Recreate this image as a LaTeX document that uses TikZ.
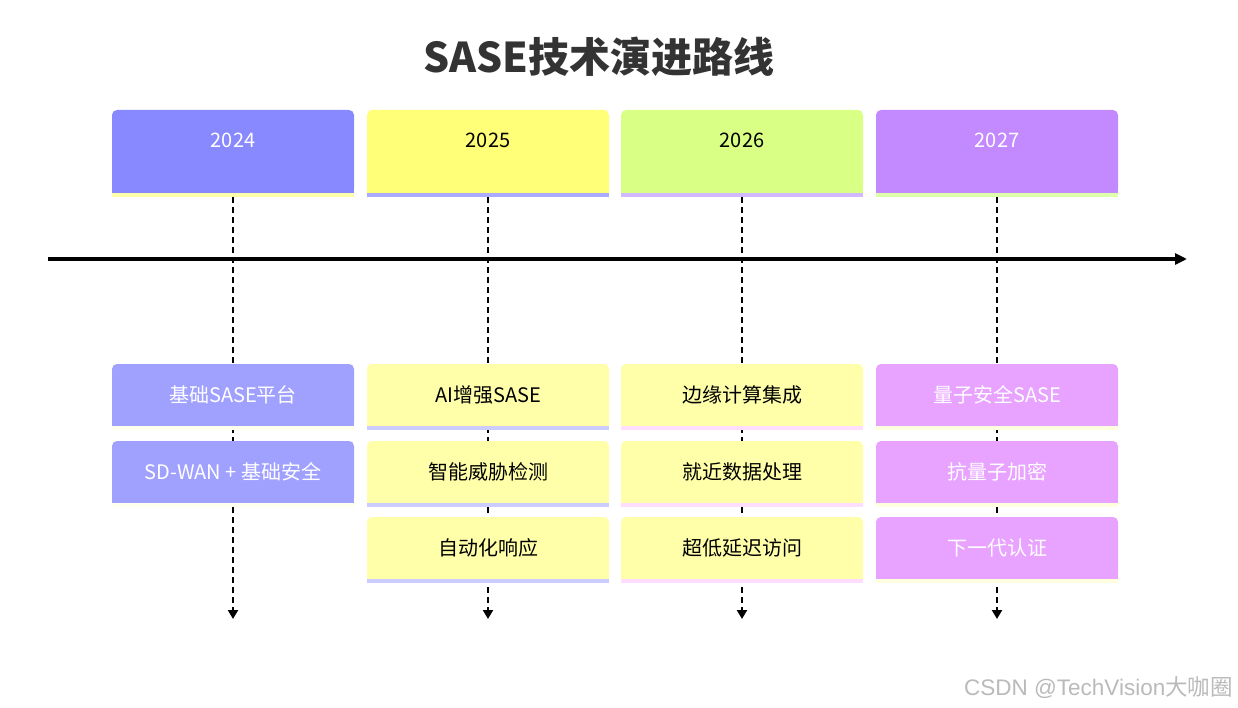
\documentclass[tikz,border=0pt]{standalone}
\usepackage{fontspec}
\setmainfont{Noto Sans CJK SC}
\newfontfamily\wmlatin{Liberation Sans}
\usetikzlibrary{arrows.meta}
\definecolor{hA}{HTML}{8888FF}\definecolor{hB}{HTML}{FFFF78}\definecolor{hC}{HTML}{D9FF85}\definecolor{hD}{HTML}{C389FF}
\definecolor{hsA}{HTML}{FFFFAA}\definecolor{hsB}{HTML}{AAAAFF}\definecolor{hsC}{HTML}{D4B8FF}\definecolor{hsD}{HTML}{DDFFAA}
\definecolor{tA}{HTML}{A0A0FF}\definecolor{tB}{HTML}{FFFFAA}\definecolor{tC}{HTML}{FFFFAA}\definecolor{tD}{HTML}{E8A2FF}
\definecolor{tsA}{HTML}{FFFFEE}\definecolor{tsB}{HTML}{CCCCFF}\definecolor{tsC}{HTML}{FFDDFF}\definecolor{tsD}{HTML}{FFFFE0}
\definecolor{titlegray}{HTML}{333333}
\tikzset{
  cardtext/.style={inner sep=0pt, font=\fontsize{20}{22}\selectfont},
  guide/.style={draw=black, line width=2.2pt, dash pattern=on 6pt off 4pt, -{Triangle[length=9pt,width=10pt]}},
  axis/.style={draw=black, line width=3.5pt, -{Triangle[length=12pt,width=11pt]}},
}
\begin{document}
\begin{tikzpicture}[x=1pt,y=-1pt]
\useasboundingbox (0,0) rectangle (1238,708);
\fill[white] (0,0) rectangle (1238,708);
\node[font=\fontsize{41}{45}\selectfont\bfseries, text=titlegray] (title) at (599,57) {SASE技术演进路线};
% guides
\foreach \cx/\k in {233/1,488/2,742/3,997/4}{
  \coordinate (hb\k) at (\cx,197);
  \coordinate (e\k) at (\cx,619);
  \draw[guide] (hb\k) -- (e\k);
}
% axis
\coordinate (ax0) at (48,259);
\coordinate (ax1) at (1187,259);
\draw[axis] (ax0) -- (ax1);
% headers
\foreach \cx/\L/\tc/\yr in {233/A/white/2024,488/B/black/2025,742/C/black/2026,997/D/white/2027}{
  \fill[h\L, rounded corners=5pt] (\cx-121,110) rectangle (\cx+121,193);
  \fill[h\L] (\cx-121,150) rectangle (\cx+121,193);
  \fill[hs\L] (\cx-121,193) rectangle (\cx+121,197);
  \node[cardtext, text=\tc] (y\yr) at (\cx,140) {\yr};
}
% tasks
\newcommand\task[3]{%
  \fill[t#2, rounded corners=5pt] (#1-121,#3) rectangle (#1+121,#3+62);
  \fill[t#2] (#1-121,#3+30) rectangle (#1+121,#3+62);
  \fill[ts#2] (#1-121,#3+62) rectangle (#1+121,#3+66);
}
\task{233}{A}{364}\node[cardtext,text=white] (a1) at (233,395) {基础SASE平台};
\task{233}{A}{441}\node[cardtext,text=white] (a2) at (233,472) {SD-WAN + 基础安全};
\task{488}{B}{364}\node[cardtext,text=black] (b1) at (488,395) {AI增强SASE};
\task{488}{B}{441}\node[cardtext,text=black] (b2) at (488,472) {智能威胁检测};
\task{488}{B}{517}\node[cardtext,text=black] (b3) at (488,548) {自动化响应};
\task{742}{C}{364}\node[cardtext,text=black] (c1) at (742,395) {边缘计算集成};
\task{742}{C}{441}\node[cardtext,text=black] (c2) at (742,472) {就近数据处理};
\task{742}{C}{517}\node[cardtext,text=black] (c3) at (742,548) {超低延迟访问};
\task{997}{D}{364}\node[cardtext,text=white] (d1) at (997,395) {量子安全SASE};
\task{997}{D}{441}\node[cardtext,text=white] (d2) at (997,472) {抗量子加密};
\task{997}{D}{517}\node[cardtext,text=white] (d3) at (997,548) {下一代认证};
% watermark
\node[anchor=east, inner sep=0pt, text=black!27, font=\fontsize{22.5}{24}\selectfont] (wm) at (1233,688) {{\wmlatin CSDN @TechVision}大咖圈};
\end{tikzpicture}
\end{document}
